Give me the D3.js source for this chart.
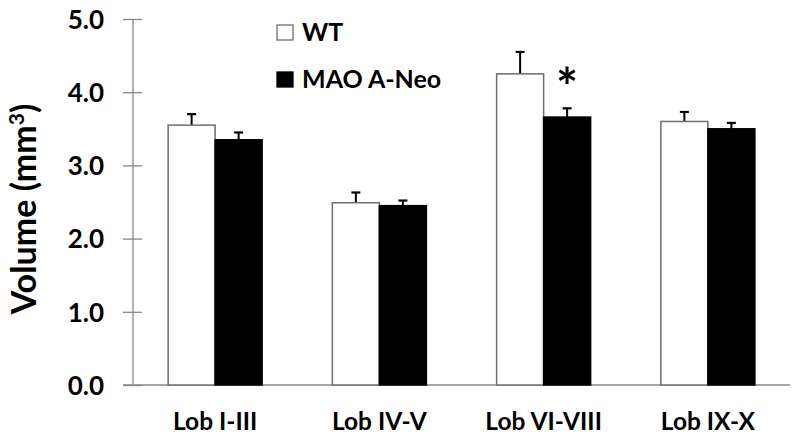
<!DOCTYPE html>
<html><head><meta charset="utf-8">
<script src="https://cdn.jsdelivr.net/npm/d3@7"></script>
<style>body{margin:0;background:#fff}svg{display:block}text{font-family:Lato,"Open Sans",sans-serif;font-weight:bold;fill:#000}</style>
</head><body><svg id="c" width="800" height="441"></svg>
<script>
const categories = ["Lob I-III","Lob IV-V","Lob VI-VIII","Lob IX-X"];
const seriesNames = ["WT","MAO A-Neo"];
const wtValues = [3.55,2.49,4.25,3.60];
const wtErrors = [0.15,0.14,0.30,0.13];
const maoValues = [3.35,2.45,3.66,3.50];
const maoErrors = [0.10,0.07,0.12,0.08];
const yTicks = [0,1,2,3,4,5];
const significance = [null,null,"*",null]; // on MAO bar

const svg = d3.select("#c");
const x0 = 133, x1 = 790, yBase = 385, yTop = 19;
const x = d3.scaleBand().domain(categories).range([x0,x1]).paddingInner(0).paddingOuter(0);
const y = d3.scaleLinear().domain([0,5]).range([yBase,yTop]);
const bw = 47;
const sub = d3.scaleBand().domain(seriesNames).range([0, bw*2]);
const axisCol = "#878787";

// y axis
const ya = svg.append("g").attr("transform",`translate(${x0},0)`)
  .call(d3.axisLeft(y).tickValues(yTicks).tickFormat(d3.format(".1f")).tickSize(10).tickPadding(19));
ya.select(".domain").remove();
ya.selectAll(".tick line").attr("x2",-10).attr("x1",9).attr("stroke",axisCol).attr("stroke-width",1.3);
ya.selectAll(".tick text").attr("font-size",26).attr("dy","0.36em").style("font-family","Lato,sans-serif").style("font-weight","bold").attr("fill","#000");
svg.append("line").attr("x1",x0).attr("x2",x0).attr("y1",y(5)).attr("y2",yBase).attr("stroke",axisCol).attr("stroke-width",1.3);
// x axis
svg.append("line").attr("x1",x0-10).attr("x2",x1).attr("y1",yBase).attr("y2",yBase).attr("stroke",axisCol).attr("stroke-width",1.3);
const xa = svg.append("g").attr("transform",`translate(0,${yBase})`).call(d3.axisBottom(x).tickSize(0).tickPadding(28));
xa.select(".domain").remove();
xa.selectAll(".tick text").attr("font-size",24.5).attr("dy","0.71em").style("font-family","Lato,sans-serif").style("font-weight","bold").attr("fill","#000");

const data = [];
categories.forEach((c,i)=>{
  data.push({c, s:"WT", v:wtValues[i], e:wtErrors[i]});
  data.push({c, s:"MAO A-Neo", v:maoValues[i], e:maoErrors[i], sig:significance[i]});
});
const bx = d => x(d.c) + x.bandwidth()/2 - bw + sub(d.s);
const eg = svg.append("g");
data.forEach(d=>{
  const cx = bx(d) + bw/2;
  eg.append("line").attr("x1",cx).attr("x2",cx).attr("y1",y(d.v)).attr("y2",y(d.v+d.e)).attr("stroke","#000").attr("stroke-width",2);
  eg.append("line").attr("x1",cx-4.5).attr("x2",cx+4.5).attr("y1",y(d.v+d.e)).attr("y2",y(d.v+d.e)).attr("stroke","#000").attr("stroke-width",2.2);
  if(d.sig) svg.append("text").attr("x",cx).attr("y",y(d.v+d.e)-2).attr("text-anchor","middle").attr("font-size",52).text(d.sig);
});
svg.append("g").selectAll("rect").data(data).join("rect")
  .attr("x",bx).attr("width",bw)
  .attr("y",d=>y(d.v)).attr("height",d=>yBase-y(d.v))
  .attr("fill",d=>d.s==="WT"?"#fff":"#000")
  .attr("stroke",d=>d.s==="WT"?"#6e6e6e":"#000").attr("stroke-width",1.5);

// legend
const lg = svg.append("g");
seriesNames.forEach((s,i)=>{
  const ly = 25 + i*47;
  lg.append("rect").attr("x",277).attr("y",ly).attr("width",16).attr("height",15)
    .attr("fill",i===0?"#fff":"#000").attr("stroke",i===0?"#6e6e6e":"#000").attr("stroke-width",1.3);
  lg.append("text").attr("x",302).attr("y",ly+16).attr("font-size",25).text(s);
});

// y title
svg.append("text").attr("transform","translate(36,209) rotate(-90)").attr("text-anchor","middle").attr("font-size",34)
  .html('Volume (mm<tspan dy="-12" font-size="21">3</tspan><tspan dy="12">)</tspan>');
</script></body></html>
